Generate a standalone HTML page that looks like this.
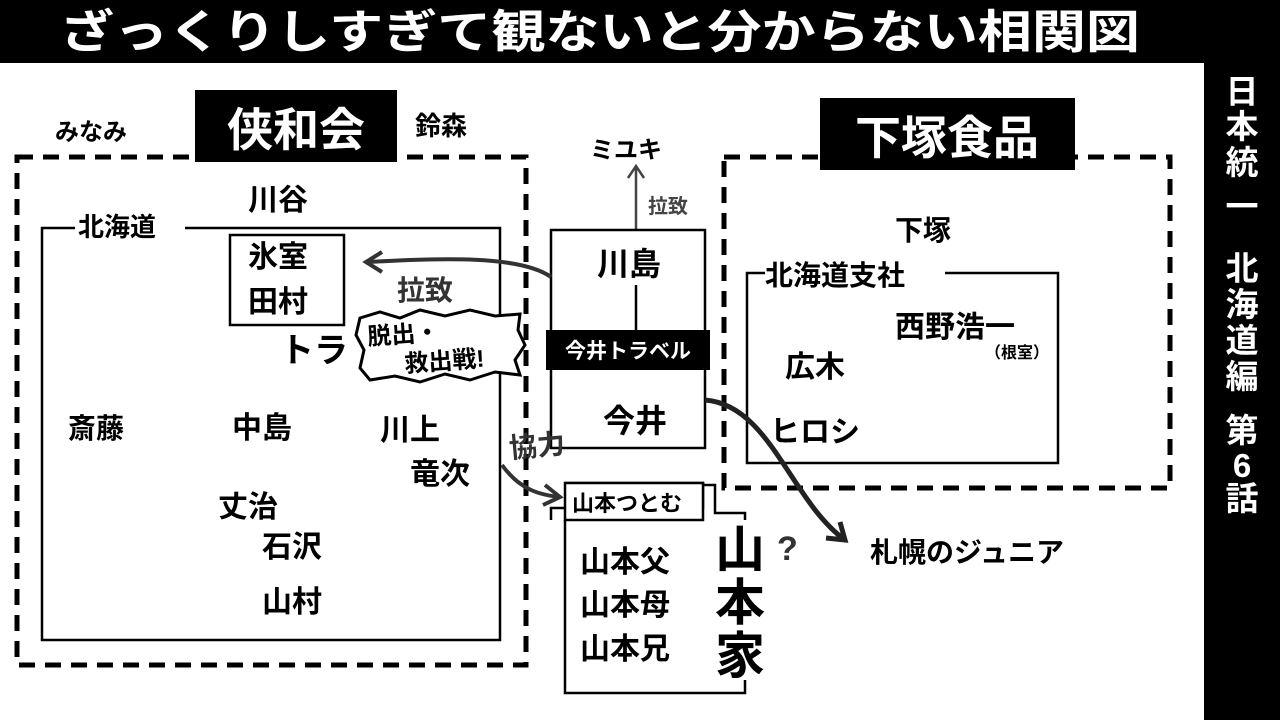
<!DOCTYPE html>
<html><head><meta charset="utf-8"><style>
html,body{margin:0;padding:0;background:#fff;}
svg{display:block;}
text{font-family:"Liberation Sans","Noto Sans CJK JP",sans-serif;font-weight:bold;}
</style></head><body>
<svg width="1280" height="720" viewBox="0 0 1280 720" xmlns="http://www.w3.org/2000/svg">
<rect x="0" y="0" width="1280" height="63" fill="#000"/>
<rect x="1204" y="0" width="76" height="720" fill="#000"/>
<text x="600" y="48" font-size="46" fill="#fff" text-anchor="middle" textLength="1080" lengthAdjust="spacingAndGlyphs">ざっくりしすぎて観ないと分からない相関図</text>
<g fill="#fff" font-size="33" text-anchor="middle">
<text x="1242" y="103">日</text><text x="1242" y="138">本</text><text x="1242" y="174">統</text><text x="1242" y="218">一</text>
<text x="1242" y="280">北</text><text x="1242" y="316">海</text><text x="1242" y="352">道</text><text x="1242" y="388">編</text>
<text x="1242" y="442">第</text><text x="1242" y="477">6</text><text x="1242" y="510">話</text>
</g>
<rect x="17" y="157" width="509" height="508" fill="none" stroke="#000" stroke-width="5" stroke-dasharray="16,10"/>
<rect x="195" y="90" width="202" height="72" fill="#000"/>
<text x="296" y="146" font-size="46" fill="#fff" text-anchor="middle">侠和会</text>
<text x="55" y="140" font-size="24">みなみ</text>
<text x="415" y="135" font-size="26">鈴森</text>
<path d="M75 228 H42 V640 H500 V228 H185" fill="none" stroke="#000" stroke-width="2.5"/>
<text x="78" y="236" font-size="26">北海道</text>
<text x="248" y="210" font-size="30">川谷</text>
<rect x="230" y="235" width="114" height="90" fill="none" stroke="#000" stroke-width="2.5"/>
<text x="248" y="267" font-size="30">氷室</text>
<text x="248" y="312" font-size="30">田村</text>
<text x="280" y="362" font-size="34">トラ</text>
<path d="M360 318 L380 312 L400 318 L420 310 L445 316 L470 310 L495 316 L520 314 L518 330 L525 345 L515 360 L520 375 L495 372 L470 380 L445 374 L420 382 L395 376 L370 380 L360 368 L364 350 L356 335 Z" fill="#fff" stroke="#000" stroke-width="3"/>
<text x="368" y="345" font-size="24" transform="rotate(-4 368 345)">脱出・</text>
<text x="405" y="372" font-size="24" transform="rotate(-4 405 372)">救出戦!</text>
<text x="68" y="438" font-size="28">斎藤</text>
<text x="232" y="438" font-size="30">中島</text>
<text x="380" y="440" font-size="30">川上</text>
<text x="410" y="484" font-size="30">竜次</text>
<text x="218" y="517" font-size="30">丈治</text>
<text x="262" y="557" font-size="30">石沢</text>
<text x="262" y="612" font-size="30">山村</text>
<text x="590" y="158" font-size="24">ミユキ</text>
<path d="M636 230 V168 M628 178 L636 166 L644 178" fill="none" stroke="#444" stroke-width="2.5"/>
<text x="648" y="213" font-size="20" fill="#444" font-weight="normal">拉致</text>
<rect x="551" y="230" width="154" height="218" fill="none" stroke="#000" stroke-width="2.5"/>
<text x="597" y="275" font-size="32">川島</text>
<line x1="636" y1="285" x2="636" y2="330" stroke="#000" stroke-width="2.5"/>
<rect x="546" y="330" width="164" height="40" fill="#000"/>
<text x="628" y="358" font-size="21" fill="#fff" text-anchor="middle">今井トラベル</text>
<text x="603" y="432" font-size="32">今井</text>
<path d="M551 277 C520 255 440 258 368 262 M382 252 L366 262 L382 272" fill="none" stroke="#333" stroke-width="4"/>
<text x="397" y="300" font-size="28" fill="#333" font-weight="normal">拉致</text>
<text x="510" y="458" font-size="28" fill="#333" font-weight="normal" transform="rotate(-5 510 458)">協力</text>
<path d="M502 465 C520 490 540 495 560 497 M545 485 L560 497 L543 505" fill="none" stroke="#333" stroke-width="4"/>
<path d="M551 520 V508 H703 V483 H565" fill="none" stroke="#000" stroke-width="2.5"/>
<rect x="565" y="483" width="138" height="37" fill="#fff" stroke="#000" stroke-width="2.5"/>
<text x="572" y="511" font-size="22" font-weight="normal">山本つとむ</text>
<path d="M565 520 V693 H745 V680 M703 485 H715 V513 H745 V520" fill="none" stroke="#000" stroke-width="2.5"/>
<text x="580" y="572" font-size="30">山本父</text>
<text x="580" y="615" font-size="30">山本母</text>
<text x="580" y="659" font-size="30">山本兄</text>
<text x="740" y="567" font-size="50" text-anchor="middle">山</text>
<text x="740" y="620" font-size="50" text-anchor="middle">本</text>
<text x="740" y="673" font-size="50" text-anchor="middle">家</text>
<text x="777" y="560" font-size="34" fill="#333" font-weight="normal">?</text>
<rect x="724" y="157" width="446" height="331" fill="none" stroke="#000" stroke-width="5" stroke-dasharray="16,10"/>
<rect x="820" y="98" width="255" height="72" fill="#000"/>
<text x="947" y="154" font-size="46" fill="#fff" text-anchor="middle">下塚食品</text>
<text x="895" y="240" font-size="28">下塚</text>
<path d="M765 273 H747 V463 H1058 V273 H945" fill="none" stroke="#000" stroke-width="2.5"/>
<text x="765" y="285" font-size="28">北海道支社</text>
<text x="895" y="337" font-size="30">西野浩一</text>
<text x="985" y="358" font-size="16" font-weight="normal">（根室）</text>
<text x="785" y="377" font-size="30">広木</text>
<text x="770" y="442" font-size="30">ヒロシ</text>
<path d="M705 400 C770 405 790 500 845 540 M826 538 L845 540 L840 522" fill="none" stroke="#222" stroke-width="5"/>
<text x="870" y="562" font-size="28" font-weight="normal">札幌のジュニア</text>
</svg>
</body></html>
